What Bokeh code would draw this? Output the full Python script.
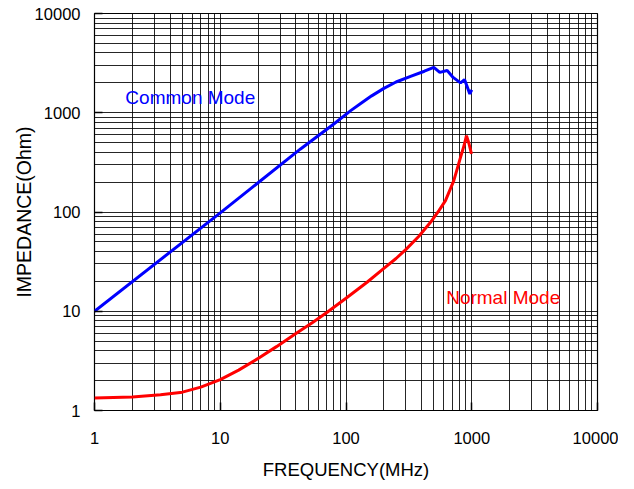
from bokeh.plotting import figure
from bokeh.models import FixedTicker, NumeralTickFormatter, Range1d
from bokeh.core.properties import value
from bokeh.embed import file_html
from bokeh.resources import INLINE

# Common mode impedance (MHz, Ohm)
common_freq = [1, 10, 43.5, 80, 109, 130, 160, 200, 250, 326, 420, 499, 557, 638, 711, 814, 876, 965, 1000]
common_z = [10, 98, 432, 770, 1050, 1230, 1480, 1760, 2040, 2330, 2620, 2870, 2550, 2660, 2270, 2000, 2160, 1550, 1700]

# Normal mode impedance (MHz, Ohm)
normal_freq = [1, 2, 3.35, 5, 7, 10, 14, 19.7, 28, 39.7, 55, 70.8, 100, 147, 200, 250, 300,
               380, 470, 550, 618, 720, 814, 870, 908, 950, 995]
normal_z = [1.34, 1.37, 1.44, 1.53, 1.72, 2.05, 2.55, 3.31, 4.4, 5.92, 7.8, 9.78, 13.5, 19.6,
            27, 34, 42, 57, 78.7, 104, 130, 207, 355, 470, 588, 490, 385]

major_ticks = [1, 10, 100, 1000, 10000]
minor_ticks = [m * d for d in [1, 10, 100, 1000] for m in range(2, 10)]

labels = ["Common Mode", "Normal Mode"]
label_x = [1.76, 626]
label_y = [1420, 13.8]
label_colors = ["#0000FF", "#FF0000"]

FONT = "Liberation Sans"

p = figure(frame_width=503, frame_height=397, x_axis_type="log", y_axis_type="log",
           x_range=Range1d(1, 10000), y_range=Range1d(1, 10000),
           output_backend="svg", toolbar_location=None,
           min_border_left=94, min_border_top=13, min_border_right=21, min_border_bottom=60)

for ax in (p.xaxis[0], p.yaxis[0]):
    ax.ticker = FixedTicker(ticks=major_ticks, minor_ticks=minor_ticks)
    ax.formatter = NumeralTickFormatter(format="0")
    ax.axis_line_color = None
    ax.major_tick_in = 8
    ax.major_tick_out = 0
    ax.major_tick_line_width = 1.5
    ax.minor_tick_line_color = None
    ax.major_label_text_font = FONT
    ax.major_label_text_font_size = "16.5px"
    ax.major_label_text_color = "#000000"
    ax.axis_label_text_font = FONT
    ax.axis_label_text_font_style = "normal"
    ax.axis_label_text_color = "#000000"

p.xaxis.axis_label = "FREQUENCY(MHz)"
p.yaxis.axis_label = "IMPEDANCE(Ohm)"
p.xaxis.axis_label_text_font_size = "18.5px"
p.yaxis.axis_label_text_font_size = "19.5px"
p.xaxis.major_label_standoff = 17
p.xaxis.axis_label_standoff = 12
p.yaxis.major_label_standoff = 10
p.yaxis.axis_label_standoff = -3

for g in (p.xgrid[0], p.ygrid[0]):
    g.grid_line_color = "#000000"
    g.grid_line_alpha = 0.85
    g.grid_line_width = 1
    g.minor_grid_line_color = "#000000"
    g.minor_grid_line_alpha = 0.85
    g.minor_grid_line_width = 1

p.outline_line_color = "#000000"
p.outline_line_width = 1.2
p.outline_line_alpha = 1

p.line(common_freq, common_z, line_color="#0000FF", line_width=3)
p.line(normal_freq, normal_z, line_color="#FF0000", line_width=3)

p.text(x=label_x, y=label_y, text=labels, text_color=label_colors,
       text_font=value(FONT), text_font_size="19px",
       text_align="left", text_baseline="middle")

open("out.html", "w").write(file_html(p, INLINE))
